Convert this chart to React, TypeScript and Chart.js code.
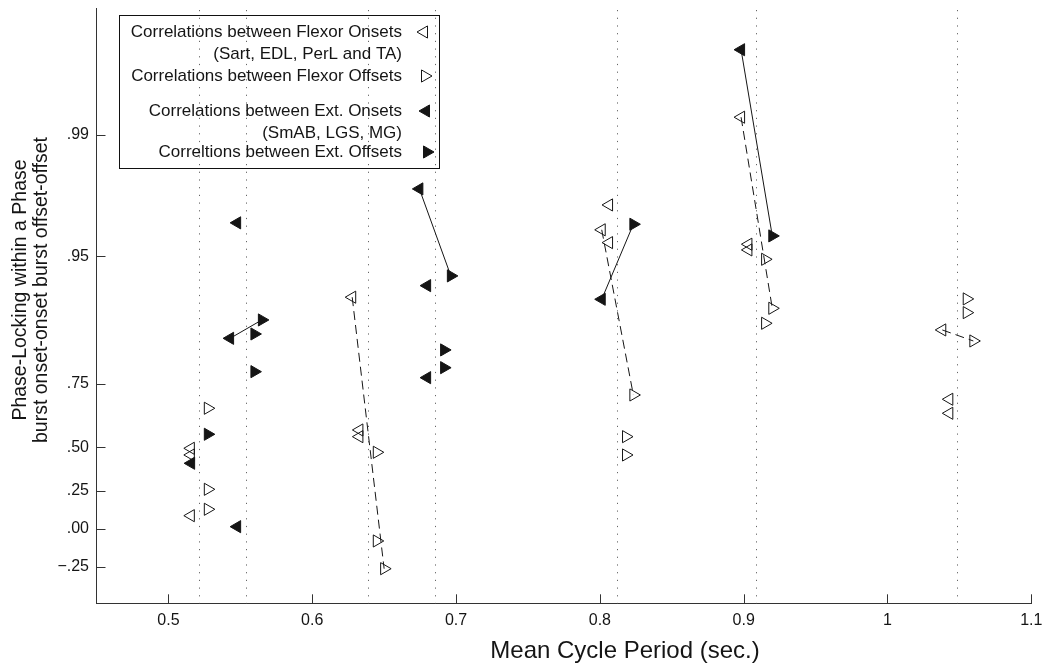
import React, { useEffect, useRef } from 'react';
import { Chart, registerables } from 'chart.js';

Chart.register(...registerables);

const FONT = '"Liberation Sans", Arial, Helvetica, sans-serif';
const INK = '#151515';

// x axis ticks (mean cycle period, s)
const X_TICKS = [0.5, 0.6, 0.7, 0.8, 0.9, 1, 1.1];
// y axis ticks (phase-locking r, drawn on a Fisher-z scale)
const Y_TICKS = [-0.25, 0, 0.25, 0.5, 0.75, 0.95, 0.99];
const Y_TICK_LABELS = ['\u2212.25', '.00', '.25', '.50', '.75', '.95', '.99'];

// dotted verticals: mean cycle periods
const MEAN_PERIODS = [0.5215, 0.554, 0.6387, 0.6854, 0.8118, 0.9086, 1.0482];

// Correlations between Flexor Onsets (open, left-pointing)
const FLEX_ON_X = [0.5156, 0.5156, 0.5156, 0.6278, 0.6328, 0.6328, 0.8064, 0.8013, 0.8064, 0.8982, 0.9033, 0.9033, 1.0381, 1.043, 1.043];
const FLEX_ON_R = [0.4942, 0.4595, 0.0885, 0.9149, 0.5814, 0.5509, 0.9746, 0.9647, 0.9582, 0.99212, 0.95732, 0.95399, 0.8709, 0.7019, 0.6509];

// Correlations between Flexor Offsets (open, right-pointing)
const FLEX_OFF_X = [0.5274, 0.5274, 0.5274, 0.6449, 0.6449, 0.65, 0.8233, 0.8182, 0.8182, 0.9199, 0.9149, 0.9149, 1.0551, 1.0551, 1.0597];
const FLEX_OFF_R = [0.6699, 0.26, 0.131, 0.4737, -0.0811, -0.2613, 0.7162, 0.5509, 0.4595, 0.9019, 0.948, 0.8813, 0.913, 0.8963, 0.8518];

// Correlations between Ext. Onsets (filled, left-pointing)
const EXT_ON_X = [0.5478, 0.5429, 0.5158, 0.5478, 0.6745, 0.6799, 0.6799, 0.8013, 0.8982];
const EXT_ON_R = [0.9678, 0.8566, 0.4144, 0.0148, 0.97947, 0.9267, 0.7683, 0.9126, 0.99681];

// Correltions between Ext. Offsets (filled, right-pointing)
const EXT_OFF_X = [0.565, 0.5598, 0.5598, 0.5274, 0.6964, 0.6917, 0.6917, 0.8233, 0.9199];
const EXT_OFF_R = [0.8862, 0.8642, 0.7843, 0.562, 0.9354, 0.8344, 0.7944, 0.9672, 0.96174];

// connecting segments: [onset index, offset index]
const SOLID_PAIRS = [[1, 0], [4, 4], [7, 7], [8, 8]];
const DASHED_PAIRS = [[3, 5], [7, 6], [9, 9], [12, 14]];

const LEGEND_LINES = [
  'Correlations between Flexor Onsets',
  '(Sart, EDL, PerL and TA)',
  'Correlations between Flexor Offsets',
  'Correlations between Ext. Onsets',
  '(SmAB, LGS, MG)',
  'Correltions between Ext. Offsets',
];

const X_TITLE = 'Mean Cycle Period (sec.)';
const Y_TITLE = ['Phase-Locking within a Phase', 'burst onset-onset burst offset-offset'];

const z = (r: number) => Math.atanh(r);
const pts = (xs: number[], rs: number[]) => xs.map((x, i) => ({ x, y: z(rs[i]) }));

function tri(ctx: CanvasRenderingContext2D, x: number, y: number, r: number, dir: number, filled: boolean) {
  // dir: -1 left, 1 right
  ctx.beginPath();
  ctx.moveTo(x + dir * r, y);
  ctx.lineTo(x - dir * r * 0.5, y - r * 0.866);
  ctx.lineTo(x - dir * r * 0.5, y + r * 0.866);
  ctx.closePath();
  if (filled) {
    ctx.fillStyle = INK;
    ctx.fill();
  }
  ctx.strokeStyle = INK;
  ctx.lineWidth = 1;
  ctx.stroke();
}

export default function App() {
  const ref = useRef<HTMLCanvasElement>(null);

  useEffect(() => {
    document.body.style.margin = '0';
    const canvas = ref.current!;

    const marker = (rot: number, filled: boolean) => ({
      showLine: false,
      pointStyle: 'triangle',
      rotation: rot,
      radius: 7,
      pointRadius: 7,
      pointHoverRadius: 7,
      borderWidth: 1,
      borderColor: INK,
      backgroundColor: filled ? INK : 'rgba(0,0,0,0)',
      pointBackgroundColor: filled ? INK : 'rgba(0,0,0,0)',
      pointBorderColor: INK,
    });

    const seg = (a: { x: number; y: number }, b: { x: number; y: number }, dashed: boolean) => ({
      data: [a, b],
      showLine: true,
      pointRadius: 0,
      borderColor: INK,
      borderWidth: 1,
      borderDash: dashed ? [9, 5] : [],
      fill: false,
    });

    const flexOn = pts(FLEX_ON_X, FLEX_ON_R);
    const flexOff = pts(FLEX_OFF_X, FLEX_OFF_R);
    const extOn = pts(EXT_ON_X, EXT_ON_R);
    const extOff = pts(EXT_OFF_X, EXT_OFF_R);

    const datasets: any[] = [
      ...SOLID_PAIRS.map(([a, b]) => seg(extOn[a], extOff[b], false)),
      ...DASHED_PAIRS.map(([a, b]) => seg(flexOn[a], flexOff[b], true)),
      { label: 'Flexor Onsets', data: flexOn, ...marker(-90, false) },
      { label: 'Flexor Offsets', data: flexOff, ...marker(90, false) },
      { label: 'Ext. Onsets', data: extOn, ...marker(-90, true) },
      { label: 'Ext. Offsets', data: extOff, ...marker(90, true) },
    ];

    const decor = {
      id: 'decor',
      beforeDatasetsDraw(chart: any) {
        const { ctx, chartArea } = chart;
        const xs = chart.scales.x;
        ctx.save();
        ctx.strokeStyle = '#666';
        ctx.lineWidth = 1;
        ctx.setLineDash([1.2, 6.5]);
        MEAN_PERIODS.forEach((v) => {
          const px = Math.round(xs.getPixelForValue(v)) + 0.5;
          ctx.beginPath();
          ctx.moveTo(px, chartArea.top + 2);
          ctx.lineTo(px, chartArea.bottom);
          ctx.stroke();
        });
        ctx.restore();
      },
      afterDraw(chart: any) {
        const { ctx, chartArea } = chart;
        const xs = chart.scales.x;
        const ys = chart.scales.y;
        ctx.save();
        // inward ticks
        ctx.strokeStyle = '#333';
        ctx.lineWidth = 1;
        ctx.setLineDash([]);
        xs.ticks.forEach((t: any) => {
          const px = Math.round(xs.getPixelForValue(t.value)) + 0.5;
          ctx.beginPath();
          ctx.moveTo(px, chartArea.bottom);
          ctx.lineTo(px, chartArea.bottom - 9);
          ctx.stroke();
        });
        ys.ticks.forEach((t: any) => {
          const py = Math.round(ys.getPixelForValue(t.value)) + 0.5;
          ctx.beginPath();
          ctx.moveTo(chartArea.left, py);
          ctx.lineTo(chartArea.left + 9, py);
          ctx.stroke();
        });

        // legend box
        ctx.strokeStyle = '#111';
        ctx.strokeRect(119.5, 15.5, 320, 153);
        ctx.fillStyle = INK;
        ctx.font = `17px ${FONT}`;
        ctx.textAlign = 'right';
        ctx.textBaseline = 'middle';
        const ly = [32, 54, 76, 111, 133, 152];
        LEGEND_LINES.forEach((s, i) => ctx.fillText(s, 402, ly[i]));
        tri(ctx, 424, 32, 7, -1, false);
        tri(ctx, 425, 76, 7, 1, false);
        tri(ctx, 426, 111, 7, -1, true);
        tri(ctx, 427, 152, 7, 1, true);

        // axis titles
        ctx.fillStyle = INK;
        ctx.textAlign = 'center';
        ctx.textBaseline = 'middle';
        ctx.font = `24px ${FONT}`;
        ctx.fillText(X_TITLE, 625, 651);
        ctx.font = `19.5px ${FONT}`;
        ctx.translate(0, 290);
        ctx.rotate(-Math.PI / 2);
        ctx.fillText(Y_TITLE[0], 0, 21);
        ctx.fillText(Y_TITLE[1], 0, 42);
        ctx.restore();
      },
    };

    const chart = new Chart(canvas, {
      type: 'scatter',
      data: { datasets },
      plugins: [decor],
      options: {
        responsive: false,
        animation: false,
        devicePixelRatio: 1,
        layout: { padding: { left: 0, right: 15.7, top: 8, bottom: 0 } },
        plugins: { legend: { display: false }, tooltip: { enabled: false } },
        scales: {
          x: {
            type: 'linear',
            min: 0.45,
            max: 1.1,
            grid: { display: false, drawTicks: false },
            border: { display: true, color: '#333', width: 1 },
            ticks: {
              padding: 8,
              color: INK,
              font: { family: FONT, size: 16 },
              maxRotation: 0,
              autoSkip: false,
              callback: (v: any) => String(Number(v)),
            },
            afterBuildTicks: (s: any) => {
              s.ticks = X_TICKS.map((v) => ({ value: v }));
            },
            afterFit: (s: any) => {
              s.height = 63.7;
              s.paddingLeft = 0;
              s.paddingRight = 0;
            },
          },
          y: {
            type: 'linear',
            min: -0.5,
            max: 3.5,
            grid: { display: false, drawTicks: false },
            border: { display: true, color: '#333', width: 1 },
            ticks: {
              padding: 7.5,
              color: INK,
              font: { family: FONT, size: 16 },
              autoSkip: false,
              callback: (_v: any, i: number) => Y_TICK_LABELS[i],
            },
            afterBuildTicks: (s: any) => {
              s.ticks = Y_TICKS.map((r) => ({ value: z(r) }));
            },
            afterFit: (s: any) => {
              s.width = 96.5;
              s.paddingTop = 0;
              s.paddingBottom = 0;
            },
          },
        },
      } as any,
    });

    return () => chart.destroy();
  }, []);

  return <canvas ref={ref} width={1047} height={667} style={{ display: 'block' }} />;
}
